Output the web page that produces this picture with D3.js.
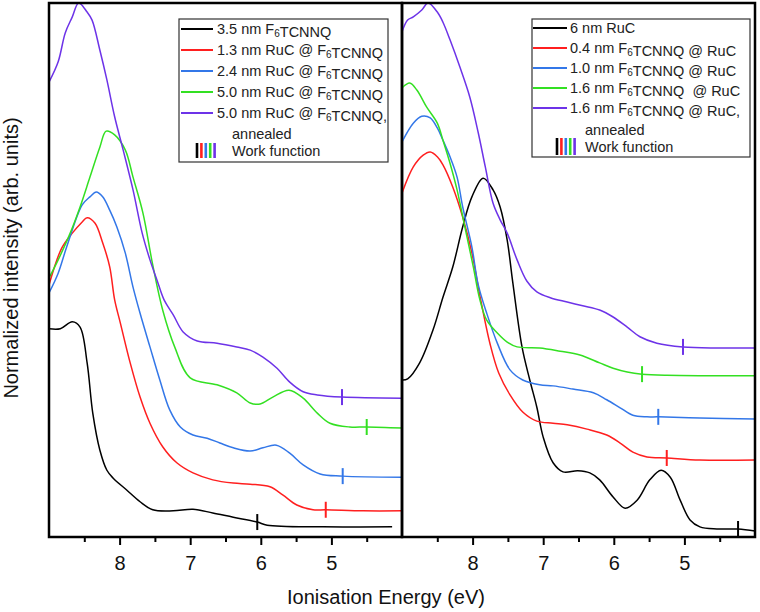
<!DOCTYPE html>
<html><head><meta charset="utf-8">
<script src="https://cdn.jsdelivr.net/npm/d3@7"></script>
<style>body{margin:0;background:#fff}svg{display:block}text{white-space:pre}</style>
</head><body><svg id="c" width="760" height="612"></svg>
<script>
// ---------- DATA ----------
const seriesColors = ["#000000", "#ff1f1f", "#3377e8", "#33e022", "#6d33e8"];

const leftLabels = ["3.5 nm F6TCNNQ", "1.3 nm RuC @ F6TCNNQ", "2.4 nm RuC @ F6TCNNQ", "5.0 nm RuC @ F6TCNNQ", "5.0 nm RuC @ F6TCNNQ,"];
const rightLabels = ["6 nm RuC", "0.4 nm F6TCNNQ @ RuC", "1.0 nm F6TCNNQ @ RuC", "1.6 nm F6TCNNQ  @ RuC", "1.6 nm F6TCNNQ @ RuC,"];
const extraLabels = ["annealed", "Work function"];

const xTickLabels = [8, 7, 6, 5];
const xMinorTicks = [8.5, 7.5, 6.5, 5.5, 4.5];

// [ionisation energy (eV), normalized intensity (arb. units)]
const leftF6TCNNQ = [[9.0,39.0],[8.84,39.0],[8.67,40.3],[8.56,39.3],[8.46,32.6],[8.38,23.2],[8.28,16.3],[8.18,12.5],[8.09,11.0],[7.90,8.8],[7.71,6.6],[7.53,5.1],[7.24,4.9],[6.96,5.2],[6.68,4.5],[6.39,3.7],[6.05,2.8],[5.91,2.2],[5.12,1.9],[4.14,1.9]];
const leftRuC13 = [[9.0,47.2],[8.82,54.1],[8.67,56.9],[8.53,59.0],[8.46,59.8],[8.35,58.8],[8.24,55.1],[8.14,50.6],[8.07,44.4],[7.99,40.1],[7.85,32.6],[7.71,26.2],[7.57,21.3],[7.39,16.9],[7.19,13.9],[6.96,12.0],[6.68,10.7],[6.39,10.1],[6.15,9.9],[5.87,9.4],[5.69,7.9],[5.49,6.0],[5.26,5.1],[5.08,5.1],[4.55,4.9],[4.0,4.9]];
const leftRuC24 = [[9.0,45.7],[8.87,49.4],[8.75,54.3],[8.53,62.2],[8.42,63.7],[8.33,64.6],[8.24,63.7],[8.14,61.2],[8.04,58.1],[7.92,53.2],[7.81,46.8],[7.71,41.9],[7.57,35.6],[7.43,29.4],[7.29,23.8],[7.14,20.6],[6.96,19.1],[6.76,18.5],[6.58,17.6],[6.39,16.7],[6.15,16.1],[5.97,16.7],[5.78,17.2],[5.59,15.7],[5.40,13.5],[5.16,11.8],[4.84,11.4],[4.0,11.2]];
const leftRuC50 = [[9.0,48.5],[8.87,51.9],[8.70,56.9],[8.56,61.8],[8.42,67.4],[8.28,73.0],[8.19,76.0],[8.07,75.3],[7.92,72.5],[7.81,67.4],[7.67,60.7],[7.53,50.9],[7.39,42.5],[7.22,35.6],[7.00,29.8],[6.62,28.5],[6.34,27.0],[6.15,25.1],[6.01,24.9],[5.83,26.2],[5.60,27.5],[5.40,26.0],[5.20,23.2],[5.02,21.3],[4.74,20.6],[4.50,20.6],[4.0,20.4]];
const leftRuC50Annealed = [[9.0,85.2],[8.87,89.0],[8.77,94.4],[8.67,97.4],[8.58,100],[8.46,98.3],[8.39,96.8],[8.28,91.2],[8.18,85.6],[8.07,78.7],[7.95,72.5],[7.81,65.0],[7.68,56.9],[7.57,51.9],[7.47,48.1],[7.37,44.4],[7.24,41.6],[7.10,38.4],[6.90,36.7],[6.62,36.3],[6.34,35.6],[6.15,35.0],[5.97,33.7],[5.77,31.6],[5.59,29.0],[5.40,27.2],[5.20,26.6],[4.85,26.2],[4.0,26.0]];

const rightRuC = [[9.0,29.4],[8.92,29.6],[8.75,32.6],[8.56,38.8],[8.42,44.9],[8.28,50.6],[8.14,58.1],[8.01,63.7],[7.85,67.2],[7.71,65.0],[7.61,61.8],[7.51,55.6],[7.43,47.6],[7.30,35.6],[7.19,29.4],[7.09,24.3],[7.00,18.7],[6.86,13.9],[6.72,12.2],[6.51,12.4],[6.34,12.0],[6.20,10.7],[6.01,7.5],[5.84,5.4],[5.67,6.9],[5.49,10.7],[5.33,12.5],[5.20,11.2],[5.06,6.9],[4.92,3.2],[4.78,1.9],[4.54,1.5],[4.24,1.5],[4.0,1.1]];
const rightF6_04 = [[9.0,64.4],[8.84,69.3],[8.70,71.5],[8.60,72.1],[8.50,71.2],[8.42,69.7],[8.28,65.5],[8.14,59.9],[8.01,53.2],[7.90,45.4],[7.75,36.0],[7.63,30.7],[7.47,26.6],[7.29,23.4],[7.09,21.7],[6.86,21.3],[6.66,21.0],[6.38,20.2],[6.10,19.1],[5.91,17.6],[5.73,15.9],[5.53,15.0],[5.25,14.8],[4.78,14.4],[4.0,14.4]];
const rightF6_10 = [[9.0,74.0],[8.84,77.5],[8.72,78.8],[8.60,78.5],[8.50,76.6],[8.42,74.3],[8.32,71.2],[8.22,67.4],[8.14,61.8],[8.01,54.3],[7.92,47.2],[7.80,41.9],[7.65,36.3],[7.47,31.3],[7.29,29.4],[7.05,28.5],[6.86,28.3],[6.58,27.7],[6.29,27.0],[6.10,25.7],[5.91,24.2],[5.73,22.8],[5.53,22.5],[5.37,22.5],[4.78,22.3],[4.0,22.1]];
const rightF6_16 = [[9.0,84.1],[8.89,85.0],[8.79,83.7],[8.65,80.5],[8.50,77.5],[8.42,74.3],[8.32,70.0],[8.22,65.0],[8.11,58.1],[7.99,50.6],[7.90,44.6],[7.80,40.6],[7.65,38.2],[7.51,36.5],[7.37,35.6],[7.05,35.4],[6.76,34.8],[6.48,34.1],[6.20,32.6],[6.01,31.6],[5.81,30.9],[5.60,30.5],[5.25,30.3],[4.0,30.2]];
const rightF6_16Annealed = [[9.0,94.6],[8.92,96.8],[8.84,97.4],[8.72,98.7],[8.63,100],[8.50,98.3],[8.42,96.4],[8.32,93.1],[8.18,88.0],[8.04,82.4],[7.92,75.7],[7.82,69.3],[7.71,62.5],[7.61,59.4],[7.51,56.9],[7.37,51.9],[7.23,47.9],[7.09,45.9],[6.90,44.8],[6.66,44.0],[6.44,43.3],[6.20,42.5],[6.01,41.2],[5.81,39.3],[5.63,37.5],[5.39,36.3],[5.02,35.6],[4.54,35.4],[4.0,35.4]];

const leftWorkFunction = [6.05, 5.08, 4.84, 4.50, 4.85];
const rightWorkFunction = [4.24, 5.25, 5.37, 5.60, 5.02];

// ---------- DRAW ----------
const svg = d3.select("#c");
const FONT = "'Liberation Sans', Arial, Helvetica, sans-serif";
const plotTop = 3, plotBottom = 537;
const y = d3.scaleLinear().domain([0, 100]).range([plotBottom, plotTop]);

const panels = [
  {x0: 49, x1: 402, series: [leftF6TCNNQ, leftRuC13, leftRuC24, leftRuC50, leftRuC50Annealed], wf: leftWorkFunction, labels: leftLabels,
   legend: {x: 179, y: 19, w: 209, h: 143, lineX0: 181, lineX1: 213, textX: 217, rows: [29, 50, 71, 92, 113], ann: 134, work: 151, barX: 197, barY0: 143, barY1: 158}},
  {x0: 402, x1: 755, series: [rightRuC, rightF6_04, rightF6_10, rightF6_16, rightF6_16Annealed], wf: rightWorkFunction, labels: rightLabels,
   legend: {x: 532, y: 19, w: 218, h: 138, lineX0: 533, lineX1: 567, textX: 570, rows: [28, 48, 68, 88, 108], ann: 130, work: 147, barX: 557, barY0: 138, barY1: 155}}
];

function interp(data, e) {
  for (let i = 0; i < data.length - 1; i++) {
    const a = data[i], b = data[i + 1];
    if ((e <= a[0] && e >= b[0])) {
      const t = (a[0] - e) / (a[0] - b[0]);
      return a[1] + t * (b[1] - a[1]);
    }
  }
  return data[data.length - 1][1];
}

function addLabel(sel, text) {
  const parts = text.split(/(F6)/);
  parts.forEach(p => {
    if (p === "F6") {
      sel.append("tspan").text("F");
      sel.append("tspan").attr("font-size", 10).attr("dy", 3).text("6");
      sel.append("tspan").attr("dy", -3).text("");
    } else if (p.length) {
      sel.append("tspan").text(p);
    }
  });
}

panels.forEach((p, pi) => {
  const x = d3.scaleLinear().domain([9, 4]).range([p.x0, p.x1]);
  const clipId = "clip" + pi;
  svg.append("clipPath").attr("id", clipId).append("rect")
    .attr("x", p.x0).attr("y", plotTop).attr("width", p.x1 - p.x0).attr("height", plotBottom - plotTop);

  const line = d3.line().x(d => x(d[0])).y(d => y(d[1])).curve(d3.curveCatmullRom.alpha(0.5));
  const g = svg.append("g").attr("clip-path", `url(#${clipId})`);
  p.series.forEach((s, i) => {
    g.append("path").attr("d", line(s)).attr("fill", "none")
      .attr("stroke", seriesColors[i]).attr("stroke-width", 1.5).attr("stroke-linejoin", "round");
  });
  p.wf.forEach((e, i) => {
    const yy = y(interp(p.series[i], e));
    g.append("line").attr("x1", x(e)).attr("x2", x(e)).attr("y1", yy - 8).attr("y2", yy + 8)
      .attr("stroke", seriesColors[i]).attr("stroke-width", 2);
  });

  const ax = svg.append("g").attr("transform", `translate(0,${plotBottom})`);
  ax.call(d3.axisBottom(x).tickValues(xTickLabels).tickSize(8).tickPadding(11).tickFormat(d3.format("d")));
  ax.select(".domain").remove();
  ax.selectAll("line").attr("stroke", "#000").attr("stroke-width", 2);
  ax.selectAll("text").attr("font-family", FONT).attr("font-size", 20).attr("fill", "#111");
  const axm = svg.append("g").attr("transform", `translate(0,${plotBottom})`);
  axm.call(d3.axisBottom(x).tickValues(xMinorTicks).tickSize(5).tickFormat(""));
  axm.select(".domain").remove();
  axm.selectAll("line").attr("stroke", "#000").attr("stroke-width", 2);

  svg.append("rect").attr("x", p.x0).attr("y", plotTop).attr("width", p.x1 - p.x0).attr("height", plotBottom - plotTop)
    .attr("fill", "none").attr("stroke", "#000").attr("stroke-width", 2.5);

  const L = p.legend;
  const lg = svg.append("g");
  lg.append("rect").attr("x", L.x).attr("y", L.y).attr("width", L.w).attr("height", L.h)
    .attr("fill", "#fff").attr("stroke", "#333").attr("stroke-width", 1.2);
  p.labels.forEach((lab, i) => {
    lg.append("line").attr("x1", L.lineX0).attr("x2", L.lineX1).attr("y1", L.rows[i]).attr("y2", L.rows[i])
      .attr("stroke", seriesColors[i]).attr("stroke-width", 2);
    const t = lg.append("text").attr("x", L.textX).attr("y", L.rows[i] + 5)
      .attr("font-family", FONT).attr("font-size", 14.5).attr("fill", "#222");
    addLabel(t, lab);
  });
  lg.append("text").attr("x", L.textX + 15).attr("y", L.ann + 5).attr("font-family", FONT)
    .attr("font-size", 14.5).attr("fill", "#222").text(extraLabels[0]);
  lg.append("text").attr("x", L.textX + 15).attr("y", L.work + 5).attr("font-family", FONT)
    .attr("font-size", 14.5).attr("fill", "#222").text(extraLabels[1]);
  seriesColors.forEach((c, i) => {
    lg.append("line").attr("x1", L.barX + i * 4.4).attr("x2", L.barX + i * 4.4)
      .attr("y1", L.barY0).attr("y2", L.barY1).attr("stroke", c).attr("stroke-width", 2.6);
  });
});

svg.append("text").attr("x", 386).attr("y", 604).attr("text-anchor", "middle")
  .attr("font-family", FONT).attr("font-size", 20).attr("fill", "#111").text("Ionisation Energy (eV)");
svg.append("text").attr("transform", "translate(18,258) rotate(-90)").attr("text-anchor", "middle")
  .attr("font-family", FONT).attr("font-size", 20).attr("fill", "#111").text("Normalized intensity (arb. units)");
</script></body></html>
